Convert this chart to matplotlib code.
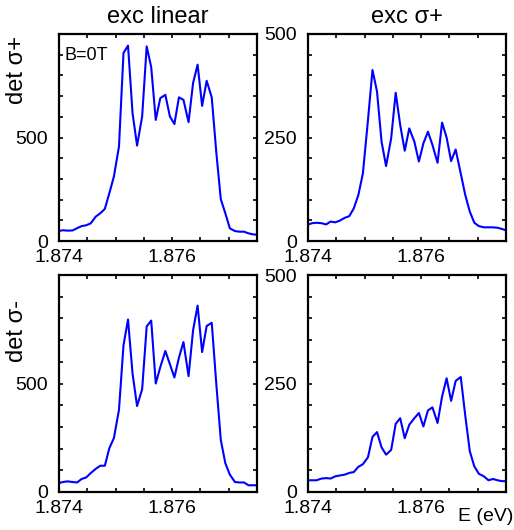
import matplotlib
matplotlib.use("Agg")
import matplotlib.pyplot as plt

plt.rcParams['font.family'] = ['Liberation Sans', 'DejaVu Sans']

# energia (eV), malla comun a los cuatro paneles
E = [1.87399, 1.87407, 1.87415, 1.87424, 1.87432, 1.87440, 1.87448, 1.87456,
     1.87465, 1.87473, 1.87481, 1.87489, 1.87497, 1.87506, 1.87514, 1.87522,
     1.87530, 1.87538, 1.87547, 1.87555, 1.87563, 1.87571, 1.87579, 1.87588,
     1.87596, 1.87604, 1.87612, 1.87620, 1.87629, 1.87637, 1.87645, 1.87653,
     1.87661, 1.87670, 1.87678, 1.87686, 1.87694, 1.87702, 1.87711, 1.87719,
     1.87727, 1.87735, 1.87743, 1.87752]

# exc lineal, det sigma+
lin_pos = [48, 52, 50, 51, 62, 72, 76, 85, 118, 134, 155, 231, 311, 456, 908, 944,
           618, 461, 602, 940, 840, 585, 690, 706, 602, 565, 694, 682, 574, 763,
           852, 653, 774, 694, 430, 202, 134, 61, 48, 45, 45, 37, 32, 30]
# exc sigma+, det sigma+
sp_pos = [39, 43, 44, 43, 40, 47, 45, 49, 56, 60, 79, 111, 163, 292, 413, 361,
          240, 181, 248, 358, 280, 218, 272, 240, 192, 236, 264, 232, 189, 286,
          250, 193, 221, 163, 111, 71, 44, 36, 33, 33, 33, 32, 29, 25]
# exc lineal, det sigma-
lin_neg = [41, 46, 49, 46, 44, 60, 67, 87, 107, 121, 121, 202, 248, 378, 676, 795,
           546, 396, 474, 763, 790, 500, 575, 650, 589, 528, 619, 691, 534, 745,
           859, 645, 765, 780, 500, 240, 133, 80, 46, 44, 44, 31, 31, 31]
# exc sigma+, det sigma-
sp_neg = [27, 27, 27, 31, 32, 31, 36, 38, 40, 44, 46, 58, 64, 80, 127, 138,
          103, 86, 97, 157, 170, 124, 155, 170, 182, 151, 188, 195, 159, 220,
          262, 210, 256, 265, 176, 94, 59, 42, 36, 27, 30, 27, 25, 25]

col_titles = ["exc linear", "exc \u03c3+"]
row_labels = ["det \u03c3+", "det \u03c3-"]
x_ticks = [1.874, 1.8745, 1.875, 1.8755, 1.876, 1.8765, 1.877, 1.8775]
x_ticklabels = ["1.874", "", "", "", "1.876", "", "", ""]
y_ticks_lin = [0, 100, 200, 300, 400, 500, 600, 700, 800, 900, 1000]
y_ticklabels_lin = ["0", "", "", "", "", "500", "", "", "", "", ""]
y_ticks_sp = [0, 50, 100, 150, 200, 250, 300, 350, 400, 450, 500]
y_ticklabels_sp = ["0", "", "", "", "", "250", "", "", "", "", "500"]

fig = plt.figure(figsize=(5.14, 5.30), dpi=100)
W, H = 514, 530
boxes = [(59, 34, 241), (308, 34, 241), (59, 275, 492), (308, 275, 492)]
series = [lin_pos, sp_pos, lin_neg, sp_neg]
axs = []
for k, (x0, top, bot) in enumerate(boxes):
    ax = fig.add_axes([x0 / W, 1 - bot / H, 198 / W, (bot - top) / H])
    ax.plot(E, series[k], color="#0000ff", lw=1.5)
    ax.set_xlim(1.874, 1.8775)
    ax.set_xticks(x_ticks)
    ax.set_xticklabels(x_ticklabels)
    if k % 2 == 0:
        ax.set_ylim(0, 1000)
        ax.set_yticks(y_ticks_lin)
        ax.set_yticklabels(y_ticklabels_lin)
    else:
        ax.set_ylim(0, 500)
        ax.set_yticks(y_ticks_sp)
        ax.set_yticklabels(y_ticklabels_sp)
    ax.tick_params(direction="in", length=3, width=1.2, top=True, right=True,
                   labelsize=14, colors="black")
    ax.tick_params(axis="y", pad=8)
    ax.tick_params(axis="x", pad=6)
    for s in ax.spines.values():
        s.set_linewidth(1.6)
    axs.append(ax)

axs[0].set_title(col_titles[0], fontsize=17, pad=8)
axs[1].set_title(col_titles[1], fontsize=17, pad=8)
axs[0].text(0.03, 0.935, "B=0T", transform=axs[0].transAxes, fontsize=13,
            ha="left", va="top")
fig.text(17 / W, 1 - 70 / H, row_labels[0], rotation=90, fontsize=17,
         ha="center", va="center")
fig.text(17 / W, 1 - 331 / H, row_labels[1], rotation=90, fontsize=17,
         ha="center", va="center")
fig.text(513 / W, 1 - 521 / H, "E (eV)", fontsize=14, ha="right", va="baseline")

fig.savefig("out.png", dpi=100)
